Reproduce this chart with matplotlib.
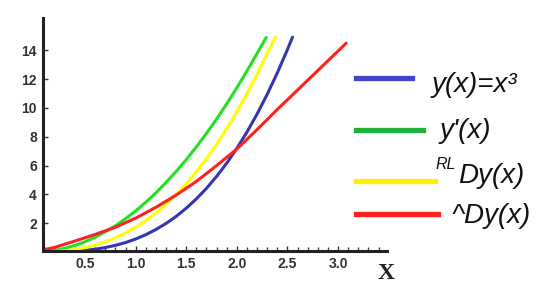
import matplotlib.pyplot as plt
from matplotlib.lines import Line2D
from matplotlib.ticker import MultipleLocator

# curves
x_blue = [0.0, 0.1, 0.2, 0.3, 0.4, 0.5, 0.6, 0.7, 0.8, 0.9, 1.0, 1.1, 1.2, 1.3,
          1.4, 1.5, 1.6, 1.7, 1.8, 1.9, 2.0, 2.1, 2.2, 2.3, 2.4, 2.5, 2.55]
y_blue = [0.0, 0.001, 0.007, 0.024, 0.058, 0.113, 0.194, 0.309, 0.461, 0.656,
          0.90, 1.20, 1.56, 1.98, 2.47, 3.04, 3.69, 4.42, 5.25, 6.17, 7.20, 8.33,
          9.58, 10.95, 12.44, 14.06, 14.92]

x_green = [0.0, 0.1, 0.2, 0.3, 0.4, 0.5, 0.6, 0.7, 0.8, 0.9, 1.0, 1.1, 1.2, 1.3,
           1.4, 1.5, 1.6, 1.7, 1.8, 1.9, 2.0, 2.1, 2.2, 2.29]
y_green = [0.0, 0.029, 0.114, 0.257, 0.456, 0.713, 1.03, 1.40, 1.82, 2.31, 2.85,
           3.45, 4.10, 4.82, 5.59, 6.41, 7.30, 8.24, 9.23, 10.29, 11.40, 12.57,
           13.79, 14.9]

x_yellow = [0.0, 0.1, 0.2, 0.3, 0.4, 0.5, 0.6, 0.7, 0.8, 0.9, 1.0, 1.1, 1.2, 1.3,
            1.4, 1.5, 1.6, 1.7, 1.8, 1.9, 2.0, 2.1, 2.2, 2.3, 2.38]
y_yellow = [0.0, 0.005, 0.031, 0.085, 0.174, 0.304, 0.480, 0.705, 0.985, 1.32,
            1.72, 2.18, 2.71, 3.31, 3.99, 4.74, 5.57, 6.48, 7.48, 8.56, 9.73,
            10.99, 12.35, 13.80, 14.9]

x_red = [0.0, 0.2, 0.4, 0.6, 0.8, 1.0, 1.2, 1.4, 1.6, 1.8, 2.0, 2.2, 2.4, 2.6,
         2.8, 3.08]
y_red = [0.0, 0.32, 0.76, 1.22, 1.72, 2.35, 3.1, 3.95, 4.9, 6.0, 7.15, 8.5, 9.9,
         11.25, 12.6, 14.5]

x_ticks = [0.5, 1.0, 1.5, 2.0, 2.5, 3.0]
y_ticks = [2, 4, 6, 8, 10, 12, 14]

labels = ["y(x)=x³", "y'(x)", "Dy(x)", "^Dy(x)"]
curve_colors = ["#3535b0", "#22e022", "#ffff00", "#ff2020"]
legend_colors = ["#4444cc", "#22b03c", "#ffee00", "#ff2020"]

fig = plt.figure(figsize=(5.5, 2.94), dpi=100)
ax = fig.add_axes([0.0773, 0.1463, 0.6264, 0.7925])

for xs, ys, c in zip([x_blue, x_green, x_yellow, x_red],
                     [y_blue, y_green, y_yellow, y_red], curve_colors):
    ax.plot(xs, ys, color=c, lw=2.2, solid_capstyle="round")

ax.set_xlim(0.08, 3.484)
ax.set_ylim(0.07, 16.25)
for s in ["top", "right"]:
    ax.spines[s].set_visible(False)
for s in ["left", "bottom"]:
    ax.spines[s].set_linewidth(2.2)
    ax.spines[s].set_color("#222222")

ax.set_xticks(x_ticks)
ax.set_xticklabels([f"{v:.1f}" for v in x_ticks])
ax.set_yticks(y_ticks)
ax.set_yticklabels([str(v) for v in y_ticks])
ax.xaxis.set_minor_locator(MultipleLocator(0.1))
ax.tick_params(axis="both", which="major", direction="in", length=3.5, width=1,
               color="#333333", labelsize=10, labelcolor="#333333", pad=4)
ax.tick_params(axis="x", which="minor", direction="in", length=3, width=1,
               color="#444444")
for t in ax.get_xticklabels() + ax.get_yticklabels():
    t.set_fontweight("bold")
    t.set_family("Liberation Sans")

fig.text(0.687, 0.05, "X", fontsize=17, fontweight="bold", family="Liberation Serif",
         color="#222222")

# legend drawn by hand
leg_y = [0.735, 0.557, 0.384, 0.272]
leg_x1 = [0.749, 0.769, 0.791, 0.796]
for yy, x1, c in zip(leg_y, leg_x1, legend_colors):
    fig.add_artist(Line2D([0.647, x1], [yy, yy], color=c, lw=3.8,
                          transform=fig.transFigure))

font = dict(fontsize=20, style="italic", family="Liberation Sans", color="#111111")
fig.text(0.785, 0.712, labels[0], va="center", **font)
fig.text(0.8, 0.555, labels[1], va="center", **font)
fig.text(0.792, 0.44, "RL", va="center", fontsize=11.5, style="italic",
         family="Liberation Sans", color="#111111")
fig.text(0.833, 0.4, labels[2], va="center", **font)
fig.text(0.82, 0.265, labels[3], va="center", **font)

fig.savefig("out.png", dpi=100)
